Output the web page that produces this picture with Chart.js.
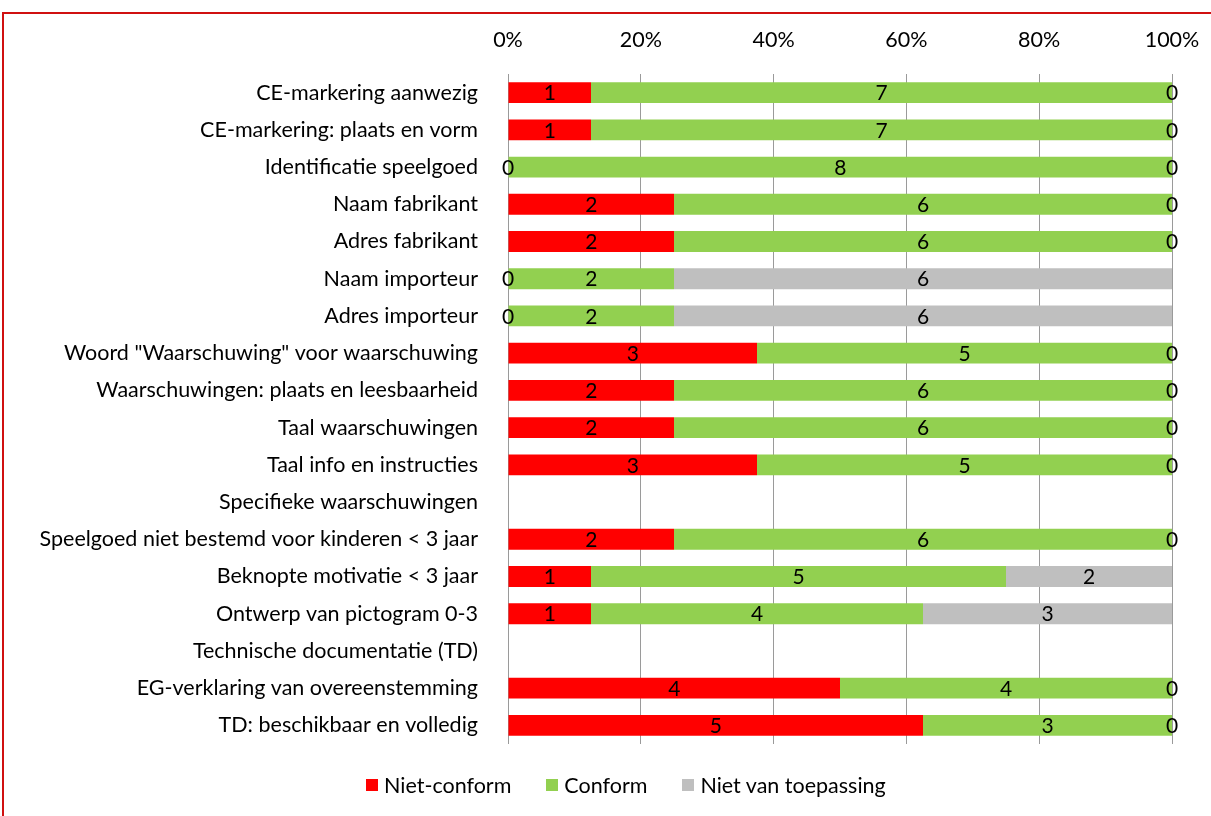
<!DOCTYPE html>
<html>
<head>
<meta charset="utf-8">
<script src="https://cdn.jsdelivr.net/npm/chart.js@4"></script>
<style>
  body { margin: 0; background: #fff; }
  #frame { position: absolute; left: 2px; top: 12px; width: 1230px; height: 830px; border: 2px solid #d01010; box-sizing: border-box; }
  #wrap { position: absolute; left: 0; top: 0; width: 1211px; height: 816px; }
  #legend { position: absolute; left: 366px; top: 772px; height: 26px; display: flex; align-items: center;
            font: 21.5px Lato, "Open Sans", sans-serif; color: #000; white-space: nowrap; }
  #legend span.item { display: flex; align-items: center; margin-right: 35px; }
  #legend span.box { width: 12px; height: 12px; margin-right: 6px; display: inline-block; }
</style>
</head>
<body>
<div id="frame"></div>
<div id="wrap"><canvas id="graph"></canvas></div>
<div id="legend"></div>
<script>
const categories = [
  'CE-markering aanwezig',
  'CE-markering: plaats en vorm',
  'Identificatie speelgoed',
  'Naam fabrikant',
  'Adres fabrikant',
  'Naam importeur',
  'Adres importeur',
  'Woord "Waarschuwing" voor waarschuwing',
  'Waarschuwingen: plaats en leesbaarheid',
  'Taal waarschuwingen',
  'Taal info en instructies',
  'Specifieke waarschuwingen',
  'Speelgoed niet bestemd voor kinderen < 3 jaar',
  'Beknopte motivatie < 3 jaar',
  'Ontwerp van pictogram 0-3',
  'Technische documentatie (TD)',
  'EG-verklaring van overeenstemming',
  'TD: beschikbaar en volledig'
];
const nietConform = [1, 1, 0, 2, 2, 0, 0, 3, 2, 2, 3, null, 2, 1, 1, null, 4, 5];
const conform     = [7, 7, 8, 6, 6, 2, 2, 5, 6, 6, 5, null, 6, 5, 4, null, 4, 3];
const nietVanToepassing = [0, 0, 0, 0, 0, 6, 6, 0, 0, 0, 0, null, 0, 2, 3, null, 0, 0];
const tickLabels = ['0%', '20%', '40%', '60%', '80%', '100%'];

const series = [
  { label: 'Niet-conform', counts: nietConform, color: '#FF0000' },
  { label: 'Conform', counts: conform, color: '#92D050' },
  { label: 'Niet van toepassing', counts: nietVanToepassing, color: '#BFBFBF' }
];

const totals = categories.map((c, i) => {
  const vals = series.map(s => s.counts[i]);
  if (vals.every(v => v === null)) return null;
  return vals.reduce((a, b) => a + (b || 0), 0);
});

const FONT = 'Lato, "Open Sans", sans-serif';

// legend as html so it can sit off-centre like the original
document.getElementById('legend').innerHTML = series.map(s =>
  `<span class="item"><span class="box" style="background:${s.color}"></span>${s.label}</span>`
).join('');

// draw counts in the middle of every segment, zeros included
const countLabels = {
  id: 'countLabels',
  afterDatasetsDraw(chart) {
    const ctx = chart.ctx;
    ctx.save();
    ctx.font = '21px ' + FONT;
    ctx.fillStyle = '#000';
    ctx.textAlign = 'center';
    ctx.textBaseline = 'middle';
    chart.data.datasets.forEach((ds, di) => {
      const meta = chart.getDatasetMeta(di);
      meta.data.forEach((bar, i) => {
        const n = series[di].counts[i];
        if (n === null || n === undefined) return;
        const x = (bar.x + bar.base) / 2;
        ctx.fillText(String(n), x, bar.y + 1);
      });
    });
    ctx.restore();
  }
};

const ctx = document.getElementById('graph').getContext('2d');
const chart = new Chart(ctx, {
  type: 'bar',
  data: {
    labels: categories,
    datasets: series.map(s => ({
      label: s.label,
      data: s.counts.map((v, i) => v === null ? null : v / totals[i] * 100),
      backgroundColor: s.color,
      borderWidth: 0,
      barPercentage: 0.56,
      categoryPercentage: 1
    }))
  },
  plugins: [countLabels],
  options: {
    indexAxis: 'y',
    responsive: true,
    maintainAspectRatio: false,
    animation: false,
    layout: { padding: { left: 0, right: 39, top: 0, bottom: 72 } },
    plugins: {
      tooltip: { enabled: false },
      legend: { display: false }
    },
    scales: {
      x: {
        position: 'top',
        stacked: true,
        min: 0,
        max: 100,
        afterFit(scale) {
          scale.height = 74;
          scale.paddingLeft = 0;
          scale.paddingRight = 0;
        },
        border: { display: false },
        grid: { color: '#9a9a9a', lineWidth: 1, drawTicks: false },
        ticks: {
          stepSize: 20,
          padding: 21,
          color: '#000',
          font: { family: FONT, size: 21.5 },
          callback: (v) => tickLabels[v / 20]
        }
      },
      y: {
        stacked: true,
        afterFit(scale) { scale.width = 508; },
        border: { display: false },
        grid: { display: false },
        ticks: {
          padding: 22,
          color: '#000',
          font: { family: FONT, size: 21.5 }
        }
      }
    }
  }
});
</script>
</body>
</html>
